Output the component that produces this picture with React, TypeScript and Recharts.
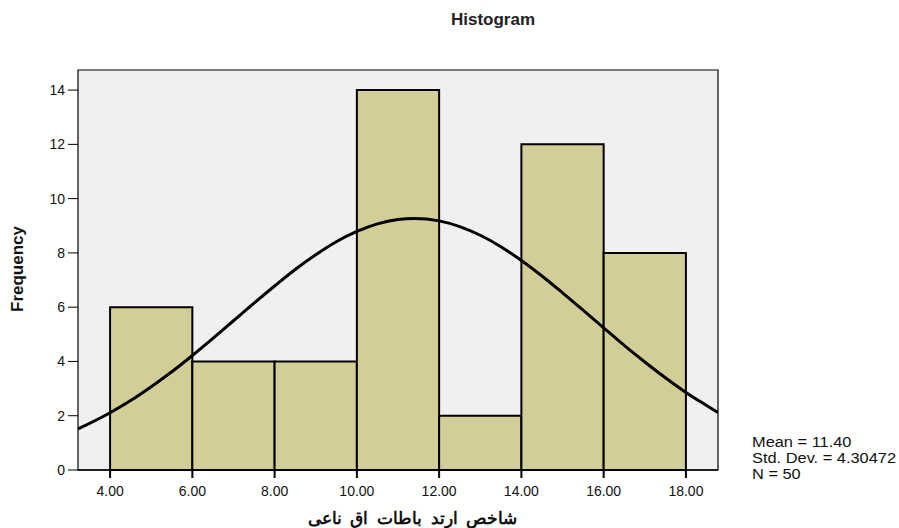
import { ComposedChart, Line, ReferenceArea, XAxis, YAxis } from "recharts";

const binStarts = [4, 6, 8, 10, 12, 14, 16];
const binEnds = [6, 8, 10, 12, 14, 16, 18];
const counts = [6, 4, 4, 14, 2, 12, 8];

const xTicks = [4, 6, 8, 10, 12, 14, 16, 18];
const yTicks = [0, 2, 4, 6, 8, 10, 12, 14];

// normal curve
const curveX = [3.22, 4, 4.5, 5, 5.5, 6, 6.5, 7, 7.5, 8, 8.5, 9, 9.5, 10, 10.5, 11, 11.4, 12, 12.5, 13, 13.5, 14, 14.5, 15, 15.5, 16, 16.5, 17, 17.5, 18, 18.5, 18.78];
const curveY = [1.51, 2.11, 2.56, 3.07, 3.62, 4.22, 4.85, 5.5, 6.15, 6.78, 7.39, 7.93, 8.41, 8.79, 9.07, 9.23, 9.27, 9.18, 8.97, 8.65, 8.23, 7.72, 7.15, 6.53, 5.89, 5.24, 4.59, 3.98, 3.4, 2.86, 2.38, 2.12];

const statLines = ["Mean = 11.40", "Std. Dev. = 4.30472", "N = 50"];
const xTitle = "شاخص ارتد  باطات اق ناعی";

const X_MIN = 3.22;
const X_MAX = 18.78;
const Y_MAX = 14.74;

const curve = curveX.map((x, i) => ({ x, y: curveY[i] }));

const font = "'Liberation Sans', Arial, sans-serif";

export default function App() {
  return (
    <div style={{ position: "absolute", left: 0, top: 0, width: 899, height: 528, background: "#fff", fontFamily: font }}>
      <div style={{ position: "absolute", left: 0, width: 986, top: 10, textAlign: "center", fontWeight: "bold", fontSize: 17, color: "#222" }}>
        Histogram
      </div>
      <ComposedChart width={899} height={528} data={curve} margin={{ top: 70, right: 181, bottom: 28, left: 38 }}>
        <XAxis
          type="number"
          dataKey="x"
          domain={[X_MIN, X_MAX]}
          ticks={xTicks}
          allowDataOverflow
          tickFormatter={(v) => v.toFixed(2)}
          height={30}
          axisLine={{ stroke: "#000", strokeWidth: 1.5 }}
          tickLine={{ stroke: "#000", strokeWidth: 2 }}
          tickSize={8}
          tick={{ fill: "#111", fontSize: 14, fontFamily: font, dy: 6 }}
        />
        <YAxis
          type="number"
          domain={[0, Y_MAX]}
          ticks={yTicks}
          allowDataOverflow
          width={40}
          axisLine={false}
          tickLine={{ stroke: "#000", strokeWidth: 1 }}
          tickSize={10}
          tick={{ fill: "#111", fontSize: 14, fontFamily: font, dx: -1 }}
          label={{ value: "Frequency", angle: -90, position: "insideLeft", dx: -26, dy: 42, style: { fontWeight: "bold", fontSize: 17, fill: "#111", fontFamily: font } }}
        />
        <ReferenceArea x1={X_MIN} x2={X_MAX} y1={0} y2={Y_MAX} fill="#f0f0f0" fillOpacity={1} stroke="#000" strokeWidth={1.2} />
        {binStarts.map((s, i) => (
          <ReferenceArea key={s} x1={s} x2={binEnds[i]} y1={0} y2={counts[i]} fill="#d3ce98" fillOpacity={1} stroke="#000" strokeWidth={2} />
        ))}
        <Line type="monotone" dataKey="y" stroke="#000" strokeWidth={3} dot={false} isAnimationActive={false} />
      </ComposedChart>
      <div style={{ position: "absolute", left: 300, width: 225, top: 508, textAlign: "center", fontWeight: "bold", fontSize: 17, wordSpacing: 4, direction: "rtl", color: "#111" }}>
        {xTitle}
      </div>
      <div style={{ position: "absolute", left: 752, top: 434, fontSize: 14, lineHeight: "16px", color: "#111", transform: "scaleX(1.17)", transformOrigin: "left top" }}>
        {statLines.map((t) => (
          <div key={t}>{t}</div>
        ))}
      </div>
    </div>
  );
}
